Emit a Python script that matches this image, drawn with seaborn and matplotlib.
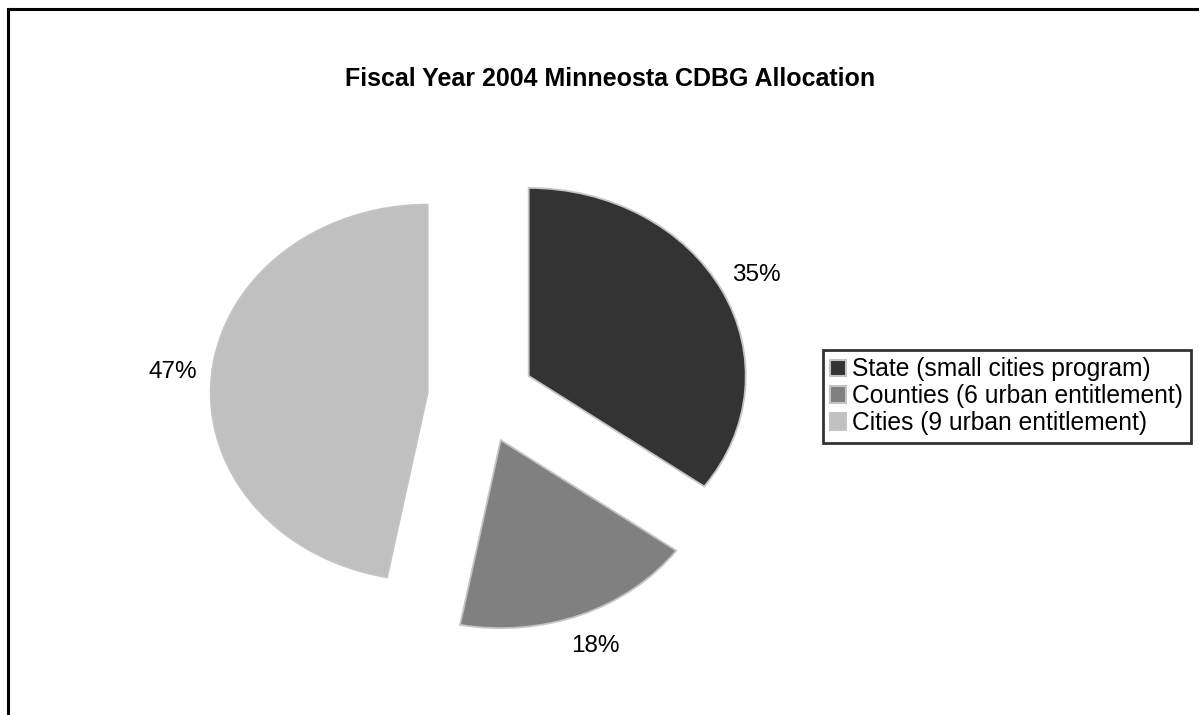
import matplotlib
matplotlib.use("Agg")
import matplotlib.pyplot as plt
from matplotlib.lines import Line2D
import seaborn as sns

categories = ["State (small cities program)",
              "Counties (6 urban entitlement)",
              "Cities (9 urban entitlement)"]
shares = [35, 18, 47]
pct_labels = ["35%", "18%", "47%"]
slice_colors = ["#333333", "#808080", "#c0c0c0"]
title = "Fiscal Year 2004 Minneosta CDBG Allocation"

sns.set_theme(style="white")
plt.rcParams["font.family"] = ["Liberation Sans", "DejaVu Sans"]
plt.rcParams["text.color"] = "black"

W, H = 1199, 715
fig = plt.figure(figsize=(W / 100, H / 100), dpi=100)
fig.patch.set_facecolor("white")

# pie centre (px) and elliptical radii (image is horizontally stretched)
cx, cy, rx, ry = 481, 397, 217, 188
L = 1.5
ax = fig.add_axes([(cx - rx * L) / W, (H - cy - ry * L) / H,
                   2 * rx * L / W, 2 * ry * L / H])
palette = sns.color_palette(slice_colors)
wedges, texts = ax.pie(
    shares, colors=palette, startangle=90, counterclock=False,
    explode=[0.2467] * len(shares), radius=1,
    labels=pct_labels, labeldistance=1.18,
    wedgeprops=dict(edgecolor="#c4c4c4", linewidth=1.3),
    textprops=dict(fontsize=17.5, color="black", ha="center", va="center"),
)
for t in texts:
    t.set_ha("center")
    t.set_va("center")
ax.set_xlim(-L, L)
ax.set_ylim(-L, L)
ax.set_aspect("auto")
ax.axis("off")

fig.text(610 / W, 1 - 86 / H, title, ha="center", va="baseline",
         fontsize=18, fontweight="bold", color="black")

leg = fig.legend(wedges, categories, loc="upper left",
                 bbox_to_anchor=(823 / W, 1 - 350 / H),
                 bbox_transform=fig.transFigure, borderaxespad=0,
                 fontsize=17.7, frameon=True, fancybox=False,
                 handlelength=0.65, handleheight=0.65, handletextpad=0.25,
                 borderpad=0.3, labelspacing=0.12, labelcolor="black")
frame = leg.get_frame()
frame.set_edgecolor("black")
frame.set_linewidth(2)
frame.set_facecolor("white")
for h in leg.legend_handles:
    h.set_edgecolor("#c4c4c4")
    h.set_linewidth(1.5)

# chart-area border: only the top and left edges fall inside the image
x0, y0 = 7.5 / W, 1 - 8.5 / H
fig.add_artist(Line2D([x0, x0], [-0.1, y0], transform=fig.transFigure,
                      color="black", linewidth=2.2, solid_capstyle="projecting"))
fig.add_artist(Line2D([x0, 1.1], [y0, y0], transform=fig.transFigure,
                      color="black", linewidth=2.2, solid_capstyle="projecting"))

fig.savefig("out.png", dpi=100, facecolor="white")
